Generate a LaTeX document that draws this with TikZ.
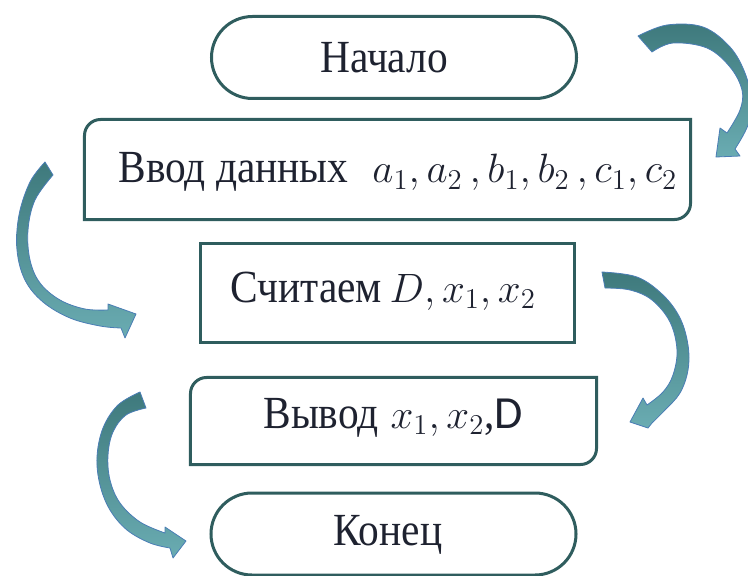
\documentclass[tikz,border=0pt]{standalone}
\usepackage{fix-cm}
\usepackage{fontspec}
\setmainfont{Liberation Serif}[FakeStretch=0.9]
\newfontfamily\sansD{Carlito}
\definecolor{boxline}{HTML}{2F5D5E}
\definecolor{arrdark}{HTML}{3E797C}
\definecolor{arrlight}{HTML}{6AACB2}
\definecolor{arredge}{HTML}{4A7DB5}
\definecolor{ink}{HTML}{1E2230}
\newcommand\varsize{\fontsize{20.5bp}{24bp}\selectfont}
\tikzset{
  frame/.style={draw=boxline, line width=1.5bp},
  slot/.style={rectangle, inner sep=0pt, outer sep=0pt},
  terminal/.style={slot, frame, rounded corners=20.5bp, minimum width=182.5bp, minimum height=41bp},
  plainbox/.style={slot, frame},
  caption/.style={text=ink, inner sep=0pt, anchor=base west, font=\fontsize{23bp}{27bp}\selectfont},
  blockarrow/.style={top color=arrdark, bottom color=arrlight, draw=arredge, line width=0.4bp, line join=round}
}
\begin{document}
\begin{tikzpicture}[x=0.5bp, y=-0.5bp]
\useasboundingbox (0,0) rectangle (748,576);
\clip (0,0) rectangle (748,576);

% --- flowchart blocks ---
\node[terminal] (start) at (394,57.5) {};
\node[slot, minimum width=303bp, minimum height=50bp] (input) at (387.5,169.5) {};
\node[plainbox, minimum width=187bp, minimum height=49.5bp] (calc) at (387.5,293) {};
\node[slot, minimum width=203bp, minimum height=43.5bp] (output) at (393.5,421) {};
\node[terminal] (end) at (393.5,534) {};

% blocks with two opposite rounded corners (radius 8bp)
\foreach \b in {input, output} {
  \draw[frame] (\b.south west) -- ([yshift=-8bp]\b.north west)
    .. controls ([yshift=-3.6bp]\b.north west) and ([xshift=3.6bp]\b.north west) .. ([xshift=8bp]\b.north west)
    -- (\b.north east) -- ([yshift=8bp]\b.south east)
    .. controls ([yshift=3.6bp]\b.south east) and ([xshift=-3.6bp]\b.south east) .. ([xshift=-8bp]\b.south east)
    -- cycle;
}

% --- texts ---
\node[caption] (tstart) at (320,73) {Начало};
\node[caption] (tinput) at (118,183) {Ввод данных\hspace{12bp}{\varsize$a_1, a_2\,, b_1, b_2\,, c_1, c_2$}};
\node[caption] (tcalc) at (230,302) {Считаем\,{\varsize$D, x_1, x_2$}};
\node[caption] (toutput) at (263,428) {Вывод\hspace{6bp}{\varsize$x_1, x_2$},{\sansD D}};
\node[caption] (tend) at (333,545) {Конец};

% --- curved block arrows ---
% top right
\draw[blockarrow]
  plot[smooth, tension=0.6] coordinates {(638,36) (667,25) (703,27) (730,47) (745,73) (751,100) (748,125) (735,149)}
  -- (740,156) -- (716,157) -- (720,128)
  -- plot[smooth, tension=0.6] coordinates {(727,133) (740,110) (742,90) (730,67) (707,48) (673,43) (652,52)}
  -- cycle;
% left, next to the input block
\draw[blockarrow]
  plot[smooth, tension=0.6] coordinates {(45,162) (30,182) (19,215) (17,250) (25,280) (43,302) (70,318) (100,326) (121,328)}
  -- (125,338) -- (136,314) -- (108,304)
  -- plot[smooth, tension=0.6] coordinates {(108,310) (85,309) (60,300) (40,283) (30,260) (28,230) (35,200) (53,175)}
  -- cycle;
% right, next to the calculation block
\draw[blockarrow]
  plot[smooth, tension=0.6] coordinates {(602,272) (637,277) (663,295) (680,318) (688,345) (688,370) (680,393) (665,410) (652,423)}
  -- (648,428) -- (630,422) -- (643,398)
  -- plot[smooth, tension=0.6] coordinates {(647,405) (663,392) (673,375) (677,350) (670,322) (652,300) (630,290) (605,288)}
  -- cycle;
% left, next to the output block
\draw[blockarrow]
  plot[smooth, tension=0.6] coordinates {(140,392) (118,405) (103,428) (97,457) (100,485) (110,510) (127,530) (150,543) (170,548)}
  -- (173,558) -- (186,541) -- (165,527)
  -- plot[smooth, tension=0.6] coordinates {(165,533) (140,522) (120,503) (110,480) (108,455) (113,432) (126,415) (146,408)}
  -- cycle;
\end{tikzpicture}
\end{document}
